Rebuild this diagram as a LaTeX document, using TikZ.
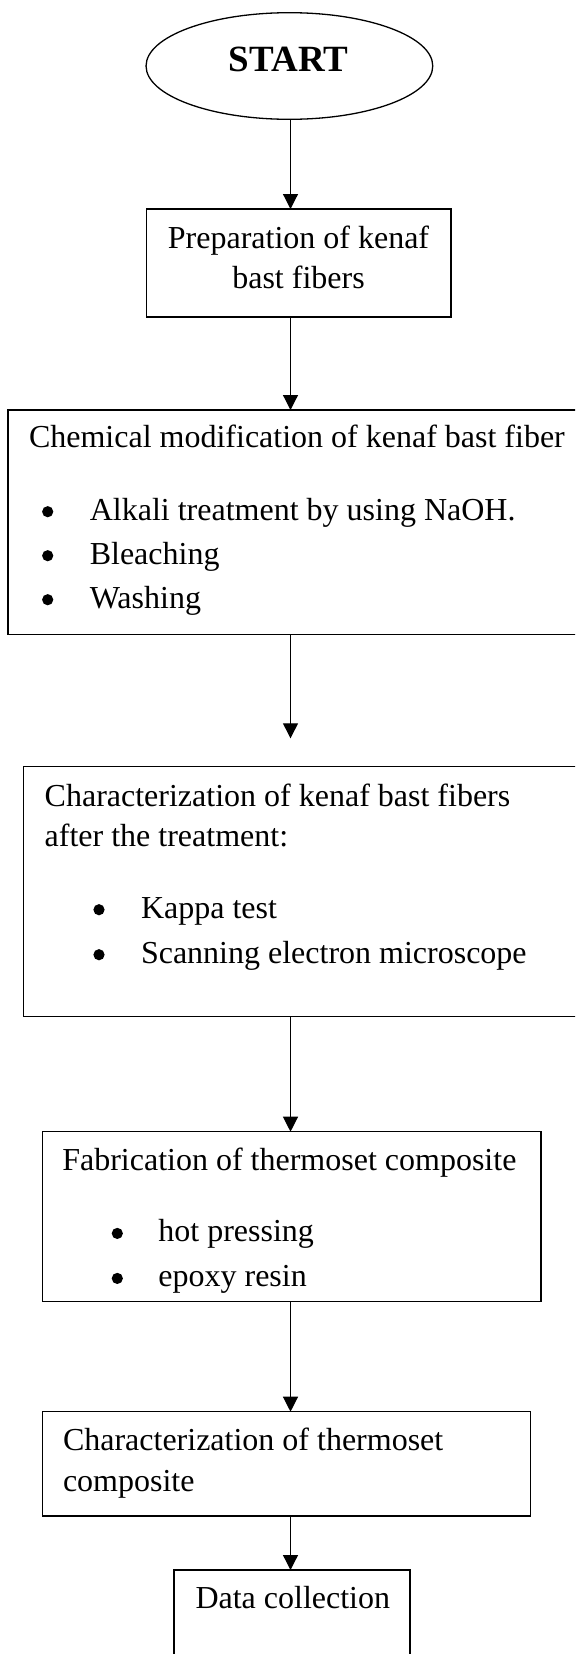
\documentclass[tikz,border=0pt]{standalone}
\usepackage{fontspec}
\setmainfont{Liberation Serif}[Ligatures={TeX,NoCommon}]
\usetikzlibrary{arrows.meta,shapes.geometric}

\begin{document}
\begin{tikzpicture}[x=0.5pt,y=-0.5pt,
  box/.style={draw,line width=0.65pt,inner sep=0pt,outer sep=0pt},
  txt/.style={inner sep=0pt,outer sep=0pt,anchor=base west,font=\fontsize{16}{20}\selectfont},
  ctxt/.style={txt,anchor=base},
  dot/.style={circle,fill,inner sep=0pt,outer sep=0pt,minimum size=5.6pt},
  flow/.style={line width=0.6pt,-{Triangle[length=7.5pt,width=7.5pt]}}]
\useasboundingbox (0,0) rectangle (575,1654);
\clip (0,0) rectangle (575,1654);

% terminal
\node[box,ellipse,minimum width=143.35pt,minimum height=53.3pt] (st) at (289.4,66) {};
\node[ctxt,font=\fontsize{18.5}{20}\bfseries\selectfont] (sttxt) at (288.5,71) {START};

% process boxes (the two widest run past the right margin)
\node[box,minimum width=152.15pt,minimum height=54pt] (b1) at (298.85,263) {};
\node[box,minimum width=296pt,minimum height=112.25pt] (b2) at (304,522.25) {};
\node[box,minimum width=288.1pt,minimum height=125.1pt] (b3) at (311.9,891.6) {};
\node[box,minimum width=249.35pt,minimum height=85pt] (b4) at (291.55,1216.7) {};
\node[box,minimum width=244.2pt,minimum height=52.15pt] (b5) at (286.4,1463.85) {};
\node[box,minimum width=118pt,minimum height=70pt] (b6) at (292,1640) {};

% box texts
\node[ctxt] (t1a) at (298.5,248) {Preparation of kenaf};
\node[ctxt] (t1b) at (298.5,288) {bast fibers};

\node[txt] (t2) at (29,447) {Chemical modification of kenaf bast fiber};
\node[dot] (d2a) at (47.7,511.7) {};
\node[txt] (t2a) at (89.8,520) {Alkali treatment by using NaOH.};
\node[dot] (d2b) at (47.7,555.7) {};
\node[txt] (t2b) at (89.8,564) {Bleaching};
\node[dot] (d2c) at (47.7,599.7) {};
\node[txt] (t2c) at (89.8,608) {Washing};

\node[txt] (t3a) at (44.7,806) {Characterization of kenaf bast fibers};
\node[txt] (t3b) at (44.7,846.7) {after the treatment:};
\node[dot] (d3a) at (99,909.7) {};
\node[txt] (t3c) at (141,918) {Kappa test};
\node[dot] (d3b) at (99,954.7) {};
\node[txt] (t3d) at (141,963) {Scanning electron microscope};

\node[txt] (t4) at (62.3,1170) {Fabrication of thermoset composite};
\node[dot] (d4a) at (117.3,1233.4) {};
\node[txt] (t4a) at (158.4,1241.7) {hot pressing};
\node[dot] (d4b) at (117.3,1278.4) {};
\node[txt] (t4b) at (158.4,1286.7) {epoxy resin};

\node[txt] (t5a) at (63,1450.7) {Characterization of thermoset};
\node[txt] (t5b) at (63,1491.7) {composite};

\node[ctxt] (t6) at (292.8,1608.5) {Data collection};

% connectors
\coordinate (ax) at (290.5,0);
\coordinate (gap) at (290.5,738.3);
\draw[flow] (st.south -| ax) -- (b1.north -| ax);
\draw[flow] (b1.south -| ax) -- (b2.north -| ax);
\draw[flow] (b2.south -| ax) -- (gap);
\draw[flow] (b3.south -| ax) -- (b4.north -| ax);
\draw[flow] (b4.south -| ax) -- (b5.north -| ax);
\draw[flow] (b5.south -| ax) -- (b6.north -| ax);
\end{tikzpicture}
\end{document}
